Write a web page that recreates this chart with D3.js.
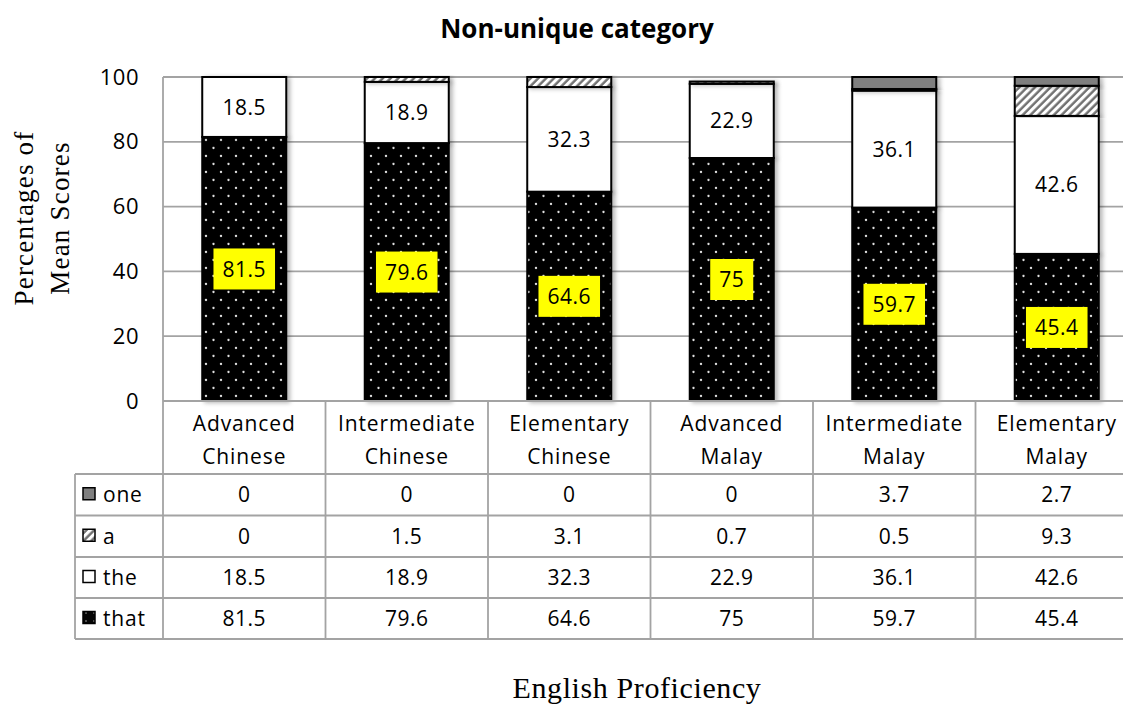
<!DOCTYPE html>
<html><head><meta charset="utf-8">
<script src="https://cdn.jsdelivr.net/npm/d3@7"></script>
<style>
html,body{margin:0;padding:0;background:#fff;}
svg{display:block;}
</style></head>
<body>
<svg id="chart" width="1123" height="704"></svg>
<script>
const categories = [["Advanced","Chinese"],["Intermediate","Chinese"],["Elementary","Chinese"],["Advanced","Malay"],["Intermediate","Malay"],["Elementary","Malay"]];
const catKeys = categories.map(c => c.join(" "));
const seriesNames = ["one","a","the","that"];
const oneVals  = [0, 0, 0, 0, 3.7, 2.7];
const aVals    = [0, 1.5, 3.1, 0.7, 0.5, 9.3];
const theVals  = [18.5, 18.9, 32.3, 22.9, 36.1, 42.6];
const thatVals = [81.5, 79.6, 64.6, 75, 59.7, 45.4];
const yTicks = [0, 20, 40, 60, 80, 100];

const values = {one: oneVals, a: aVals, the: theVals, that: thatVals};
const stackOrder = ["that","the","a","one"];
const rows = catKeys.map((k,i) => { const o = {cat:k}; seriesNames.forEach(s => o[s] = values[s][i]); return o; });
const stacked = d3.stack().keys(stackOrder)(rows);

const svg = d3.select("#chart");
const W = 1123, H = 704;
const plotLeft = 163, plotRight = 1138, plotTop = 77, plotBottom = 401;
const x = d3.scaleBand().domain(catKeys).range([plotLeft, plotRight]).padding(0);
const y = d3.scaleLinear().domain([0,100]).range([plotBottom, plotTop]);
const barW = x.bandwidth() * 0.517;
const font = "'Open Sans', 'Noto Sans', sans-serif";
const serif = "'Liberation Serif', 'Times New Roman', serif";
const gridColor = "#a3a3a3";

const defs = svg.append("defs");
const dots = defs.append("pattern").attr("id","dots").attr("patternUnits","userSpaceOnUse")
  .attr("width",15).attr("height",16);
dots.append("rect").attr("width",15).attr("height",16).attr("fill","#050505");
dots.append("circle").attr("cx",3.5).attr("cy",4).attr("r",1.15).attr("fill","#e0e0e0");
dots.append("circle").attr("cx",11).attr("cy",12).attr("r",1.15).attr("fill","#e0e0e0");
const dotsSmall = defs.append("pattern").attr("id","dotsSmall").attr("patternUnits","userSpaceOnUse")
  .attr("width",8).attr("height",8);
dotsSmall.append("rect").attr("width",8).attr("height",8).attr("fill","#050505");
dotsSmall.append("circle").attr("cx",6).attr("cy",5).attr("r",0.8).attr("fill","#aaa");
const hatch = defs.append("pattern").attr("id","hatch").attr("patternUnits","userSpaceOnUse")
  .attr("width",5.5).attr("height",5.5).attr("patternTransform","rotate(45)");
hatch.append("rect").attr("width",5.5).attr("height",5.5).attr("fill","#fff");
hatch.append("line").attr("x1",1.5).attr("x2",1.5).attr("y1",0).attr("y2",5.5)
  .attr("stroke","#6e6e6e").attr("stroke-width",2.4);
const filt = defs.append("filter").attr("id","shadow").attr("x","-20%").attr("y","-5%").attr("width","140%").attr("height","110%");
filt.append("feDropShadow").attr("dx",3).attr("dy",1).attr("stdDeviation",2)
  .attr("flood-color","#000").attr("flood-opacity",0.28);

const fills = {that:"url(#dots)", the:"#ffffff", a:"url(#hatch)", one:"#7f7f7f"};
const legendFills = {that:"url(#dotsSmall)", the:"#ffffff", a:"url(#hatch)", one:"#7f7f7f"};

// Title
svg.append("text").attr("x",577).attr("y",38).attr("text-anchor","middle")
  .attr("font-family",font).attr("font-weight","bold").attr("font-size",26)
  .text("Non-unique category");

// gridlines
svg.append("g").selectAll("line").data(yTicks.filter(t => t>0)).join("line")
  .attr("x1",plotLeft).attr("x2",W).attr("y1",d=>y(d)).attr("y2",d=>y(d))
  .attr("stroke",gridColor).attr("stroke-width",1.8);

// y axis
const yAxis = d3.axisLeft(y).tickValues(yTicks).tickSize(0).tickPadding(24);
const gy = svg.append("g").attr("transform",`translate(${plotLeft},0)`).call(yAxis);
gy.select(".domain").remove();
gy.selectAll("text").attr("font-family",font).attr("font-size",22).attr("fill","#000").attr("letter-spacing",0.5);
svg.append("line").attr("x1",plotLeft).attr("x2",plotLeft).attr("y1",plotTop).attr("y2",639)
  .attr("stroke",gridColor).attr("stroke-width",1.8);

// y title
const yt = svg.append("text").attr("transform","translate(0,218) rotate(-90)")
  .attr("text-anchor","middle").attr("font-family",serif)
  .attr("font-size",27).attr("letter-spacing",1.2).attr("fill","#000");
yt.append("tspan").attr("x",0).attr("y",33).text("Percentages  of");
yt.append("tspan").attr("x",0).attr("y",69).text("Mean Scores");

// bars
const barsG = svg.append("g");
stacked.forEach(layer => {
  barsG.append("g").attr("filter","url(#shadow)").selectAll("rect")
    .data(layer.filter(d => d[1]-d[0] > 0)).join("rect")
    .attr("x", d => x(d.data.cat) + (x.bandwidth()-barW)/2)
    .attr("width", barW)
    .attr("y", d => y(d[1]))
    .attr("height", d => y(d[0]) - y(d[1]))
    .attr("fill", fills[layer.key])
    .attr("stroke","#000").attr("stroke-width",2);
});

// labels: the
const theLayer = stacked.find(l => l.key === "the");
svg.append("g").selectAll("text").data(theLayer).join("text")
  .attr("x", d => x(d.data.cat) + x.bandwidth()/2)
  .attr("y", d => (y(d[0]) + y(d[1]))/2)
  .attr("dy","0.36em").attr("text-anchor","middle")
  .attr("font-family",font).attr("font-size",21).attr("letter-spacing",0.5)
  .text(d => d.data.the);

// labels: that (yellow boxes)
const thatLayer = stacked.find(l => l.key === "that");
const lg = svg.append("g").selectAll("g").data(thatLayer).join("g")
  .attr("transform", d => `translate(${x(d.data.cat) + x.bandwidth()/2},${(y(d[0]) + y(d[1]))/2})`);
lg.append("text").attr("dy","0.36em").attr("text-anchor","middle")
  .attr("font-family",font).attr("font-size",21).attr("letter-spacing",0.5)
  .text(d => d.data.that);
lg.each(function(){
  const g = d3.select(this);
  const w = g.select("text").node().getComputedTextLength();
  g.insert("rect","text").attr("x",-w/2-9).attr("y",-20.5).attr("width",w+18).attr("height",41).attr("fill","#ffff00");
});

// table
const tableLeft = 75, rowTops = [474, 515.5, 557, 598, 639];
const tg = svg.append("g");
tg.append("line").attr("x1",plotLeft).attr("x2",W).attr("y1",plotBottom).attr("y2",plotBottom)
  .attr("stroke",gridColor).attr("stroke-width",1.8);
rowTops.forEach(r => tg.append("line").attr("x1",tableLeft).attr("x2",W).attr("y1",r).attr("y2",r)
  .attr("stroke",gridColor).attr("stroke-width",1.8));
tg.append("line").attr("x1",tableLeft).attr("x2",tableLeft).attr("y1",rowTops[0]).attr("y2",rowTops[4])
  .attr("stroke",gridColor).attr("stroke-width",1.8);
catKeys.forEach(k => tg.append("line").attr("x1",x(k)+x.bandwidth()).attr("x2",x(k)+x.bandwidth())
  .attr("y1",plotBottom).attr("y2",rowTops[4]).attr("stroke",gridColor).attr("stroke-width",1.8));

// category labels
const cg = tg.selectAll("text.cat").data(categories).join("text").attr("class","cat")
  .attr("text-anchor","middle").attr("font-family",font).attr("font-size",21).attr("letter-spacing",0.9);
cg.append("tspan").attr("x",(d,i)=>x(catKeys[i])+x.bandwidth()/2).attr("y",431).text(d=>d[0]);
cg.append("tspan").attr("x",(d,i)=>x(catKeys[i])+x.bandwidth()/2).attr("y",464).text(d=>d[1]);

// data rows
seriesNames.forEach((s,ri) => {
  const cy = (rowTops[ri] + rowTops[ri+1]) / 2;
  tg.append("rect").attr("x",83).attr("y",cy-7).attr("width",12).attr("height",12)
    .attr("fill",legendFills[s]).attr("stroke","#000").attr("stroke-width",1.5);
  tg.append("text").attr("x",103).attr("y",cy).attr("dy","0.36em")
    .attr("font-family",font).attr("font-size",21).attr("letter-spacing",0.8).text(s);
  tg.selectAll(null).data(values[s]).join("text")
    .attr("x",(d,i)=>x(catKeys[i])+x.bandwidth()/2).attr("y",cy).attr("dy","0.36em")
    .attr("text-anchor","middle").attr("font-family",font).attr("font-size",21).attr("letter-spacing",0.5)
    .text(d=>d);
});

// x title
svg.append("text").attr("x",637).attr("y",698).attr("text-anchor","middle")
  .attr("font-family",serif).attr("font-size",30).attr("letter-spacing",0.6)
  .text("English Proficiency");
</script>
</body></html>
